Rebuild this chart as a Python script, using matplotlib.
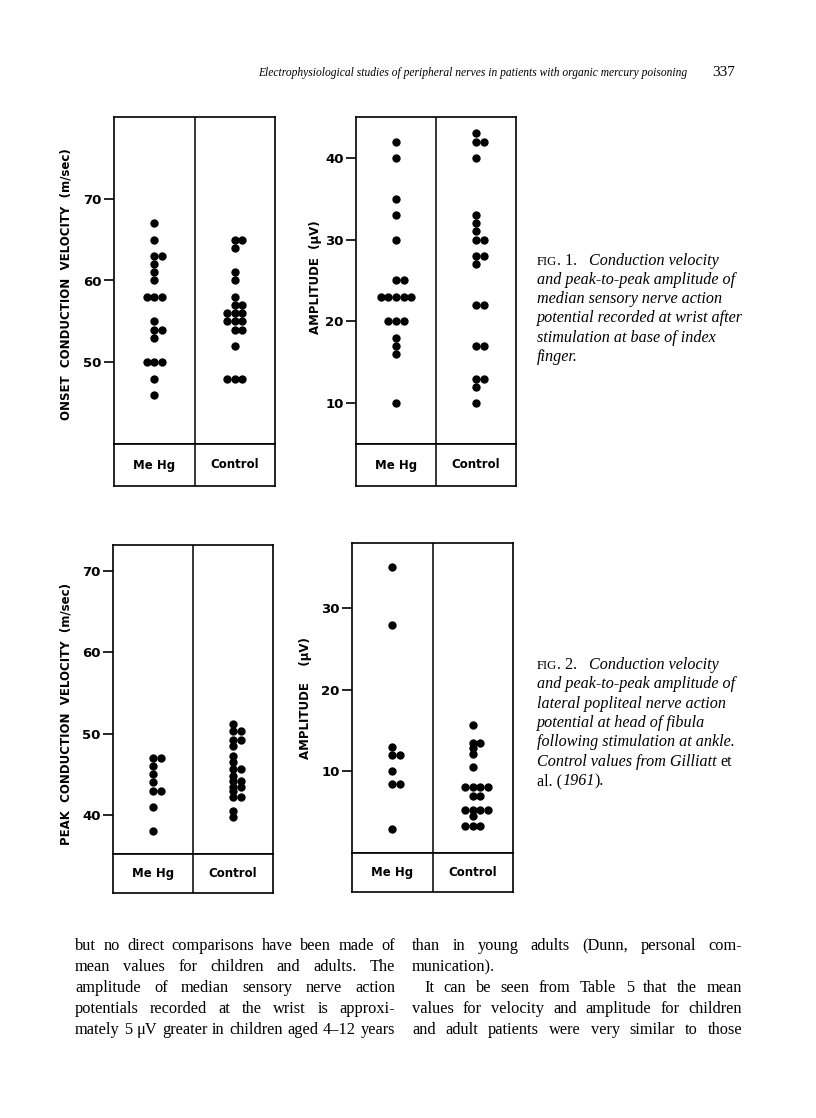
import numpy as np
import matplotlib
matplotlib.use("Agg")
import matplotlib.pyplot as plt

W, H = 816, 1118

# ---- data ----
groups = ["Me Hg", "Control"]

fig1_vel_mehg = [67, 65, 63, 63, 62, 61, 60, 58, 58, 58, 55, 54, 54, 53, 50, 50, 50, 48, 46]
fig1_vel_control = [65, 65, 64, 61, 60, 58, 57, 57, 56, 56, 56, 55, 55, 55, 54, 54, 52, 48, 48, 48]
fig1_amp_mehg = [42, 40, 35, 33, 30, 25, 25, 23, 23, 23, 23, 23, 20, 20, 20, 18, 17, 16, 10]
fig1_amp_control = [43, 42, 42, 40, 33, 32, 31, 30, 30, 28, 28, 27, 22, 22, 17, 17, 13, 13, 12, 10]
fig2_vel_mehg = [47, 47, 46, 45, 44, 43, 43, 41, 38]
fig2_vel_control = [51.2, 50.3, 50.3, 49.2, 49.2, 48.5, 47.3, 46.5, 45.6, 45.6, 44.8,
                    44.2, 44.2, 43.5, 43.5, 42.9, 42.2, 42.2, 40.5, 39.7]
fig2_amp_mehg = [35, 28, 13, 12, 12, 10, 8.5, 8.5, 3]
fig2_amp_control = [15.7, 13.5, 13.5, 12.9, 12.1, 10.6, 8.1, 8.1, 8.1, 8.1, 7, 7,
                    5.3, 5.3, 5.3, 5.3, 4.5, 3.3, 3.3, 3.3]

header = "Electrophysiological studies of peripheral nerves in patients with organic mercury poisoning"
page_no = "337"

left_col = [
    "but no direct comparisons have been made of",
    "mean values for children and adults. The",
    "amplitude of median sensory nerve action",
    "potentials recorded at the wrist is approxi-",
    "mately 5 \u03bcV greater in children aged 4\u201312 years",
]
right_col = [
    "than in young adults (Dunn, personal com-",
    "munication).",
    "It can be seen from Table 5 that the mean",
    "values for velocity and amplitude for children",
    "and adult patients were very similar to those",
]

SERIF = "Liberation Serif"
SANS = "DejaVu Sans"

fig = plt.figure(figsize=(W / 100, H / 100), dpi=100)
fig.patch.set_facecolor("white")
renderer = fig.canvas.get_renderer()


def box(l, t, r, b):
    return [l / W, 1 - b / H, (r - l) / W, (b - t) / H]


def put(x, y, s, **kw):
    return fig.text(x / W, 1 - y / H, s, **kw)


def width_of(t):
    return t.get_window_extent(renderer).width


def runs(x, y, parts):
    # draw several text pieces one after another on one baseline
    for s, kw in parts:
        t = put(x, y, s, va="baseline", ha="left", **kw)
        x += width_of(t)


def justified(x0, x1, y, line, **kw):
    words = line.split(" ")
    arts = [put(0, y, w, va="baseline", ha="left", **kw) for w in words]
    widths = [width_of(a) for a in arts]
    gap = (x1 - x0 - sum(widths)) / max(len(words) - 1, 1)
    x = x0
    for a, w in zip(arts, widths):
        a.set_x(x / W)
        x += w + gap


def fit_size(lines, width, **kw):
    # font size at which the widest line just fills the column
    widest = 0
    for s in lines:
        t = put(0, 0, s, fontsize=10, **kw)
        widest = max(widest, width_of(t))
        t.remove()
    return 10 * width / widest


def swarm(ax, values, xc, dx=0.095, s=36):
    vals, counts = np.unique(values, return_counts=True)
    for v, n in zip(vals, counts):
        offs = np.arange(n) - (n - 1) // 2
        ax.scatter(xc + offs * dx, np.full(n, v), s=s, color="black",
                   linewidths=0, zorder=3)


def panel(l, t, r, b, lab_b, ylim, ticks, mehg, control, ylabel, ylab_xy):
    ax = fig.add_axes(box(l, t, r, b))
    axl = fig.add_axes(box(l, b, r, lab_b))
    for a in (ax, axl):
        a.set_xlim(0, 2)
        a.axvline(1, color="black", lw=1.1)
        for sp in a.spines.values():
            sp.set_linewidth(1.2)
        a.set_xticks([])
    ax.set_ylim(*ylim)
    ax.set_yticks(ticks)
    ax.tick_params(axis="y", direction="out", length=7, width=1.2, pad=2,
                   labelsize=9.5)
    for lbl in ax.get_yticklabels():
        lbl.set_fontweight("bold")
    swarm(ax, mehg, 0.5)
    swarm(ax, control, 1.5)
    axl.set_yticks([])
    axl.set_ylim(0, 1)
    for i, g in enumerate(groups):
        axl.text(i + 0.5, 0.5, g, ha="center", va="center", fontsize=8.5,
                 fontweight="bold", family=SANS)
    put(ylab_xy[0], ylab_xy[1], ylabel, rotation=90, ha="center", va="center",
        fontsize=8.5, fontweight="bold", family=SANS)


panel(114, 117, 275, 444, 486, (40, 80), [50, 60, 70],
      fig1_vel_mehg, fig1_vel_control,
      "ONSET  CONDUCTION  VELOCITY  (m/sec)", (66, 284))
panel(356, 117, 516, 444, 486, (5, 45), [10, 20, 30, 40],
      fig1_amp_mehg, fig1_amp_control,
      "AMPLITUDE  (\u03bcV)", (315, 277))
panel(113, 545, 273, 854, 893, (35.2, 73.2), [40, 50, 60, 70],
      fig2_vel_mehg, fig2_vel_control,
      "PEAK  CONDUCTION  VELOCITY  (m/sec)", (66, 714))
panel(352, 543, 513, 853, 892, (0, 38), [10, 20, 30],
      fig2_amp_mehg, fig2_amp_control,
      "AMPLITUDE    (\u03bcV)", (305, 698))

# running header, sized to span the same width as in the scan
hsize = fit_size([header], 430, family=SERIF, style="italic")
put(258, 76, header, family=SERIF, style="italic", fontsize=hsize, va="baseline")
put(712, 76, page_no, family=SERIF, fontsize=11, va="baseline")

# captions
cs = 11.6
cap = dict(family=SERIF, style="italic", fontsize=cs)
rom = dict(family=SERIF, fontsize=cs)
sc = dict(family=SERIF, fontsize=cs * 0.78)
runs(537, 265, [("FIG", sc), (". 1.   ", rom), ("Conduction velocity", cap)])
for i, s in enumerate(["and peak-to-peak amplitude of",
                       "median sensory nerve action",
                       "potential recorded at wrist after",
                       "stimulation at base of index",
                       "finger."]):
    put(537, 284 + 19.2 * i, s, va="baseline", **cap)

runs(537, 669, [("FIG", sc), (". 2.   ", rom), ("Conduction velocity", cap)])
for i, s in enumerate(["and peak-to-peak amplitude of",
                       "lateral popliteal nerve action",
                       "potential at head of fibula",
                       "following stimulation at ankle."]):
    put(537, 688 + 19.5 * i, s, va="baseline", **cap)
runs(537, 766, [("Control values from Gilliatt ", cap), ("et", rom)])
runs(537, 785, [("al. (", rom), ("1961", cap), (").", rom)])

# body text, justified in two columns
bsize = min(fit_size(left_col, 318, family=SERIF),
            fit_size(right_col, 328, family=SERIF))
body = dict(family=SERIF, fontsize=bsize)
y0, dy = 950, 21
for i, s in enumerate(left_col):
    justified(75, 395, y0 + dy * i, s, **body)
for i, s in enumerate(right_col):
    if s.endswith(")."):
        put(412, y0 + dy * i, s, va="baseline", **body)
    elif s.startswith("It "):
        justified(424, 742, y0 + dy * i, s, **body)
    else:
        justified(412, 742, y0 + dy * i, s, **body)

fig.savefig("out.png", dpi=100, facecolor="white")
